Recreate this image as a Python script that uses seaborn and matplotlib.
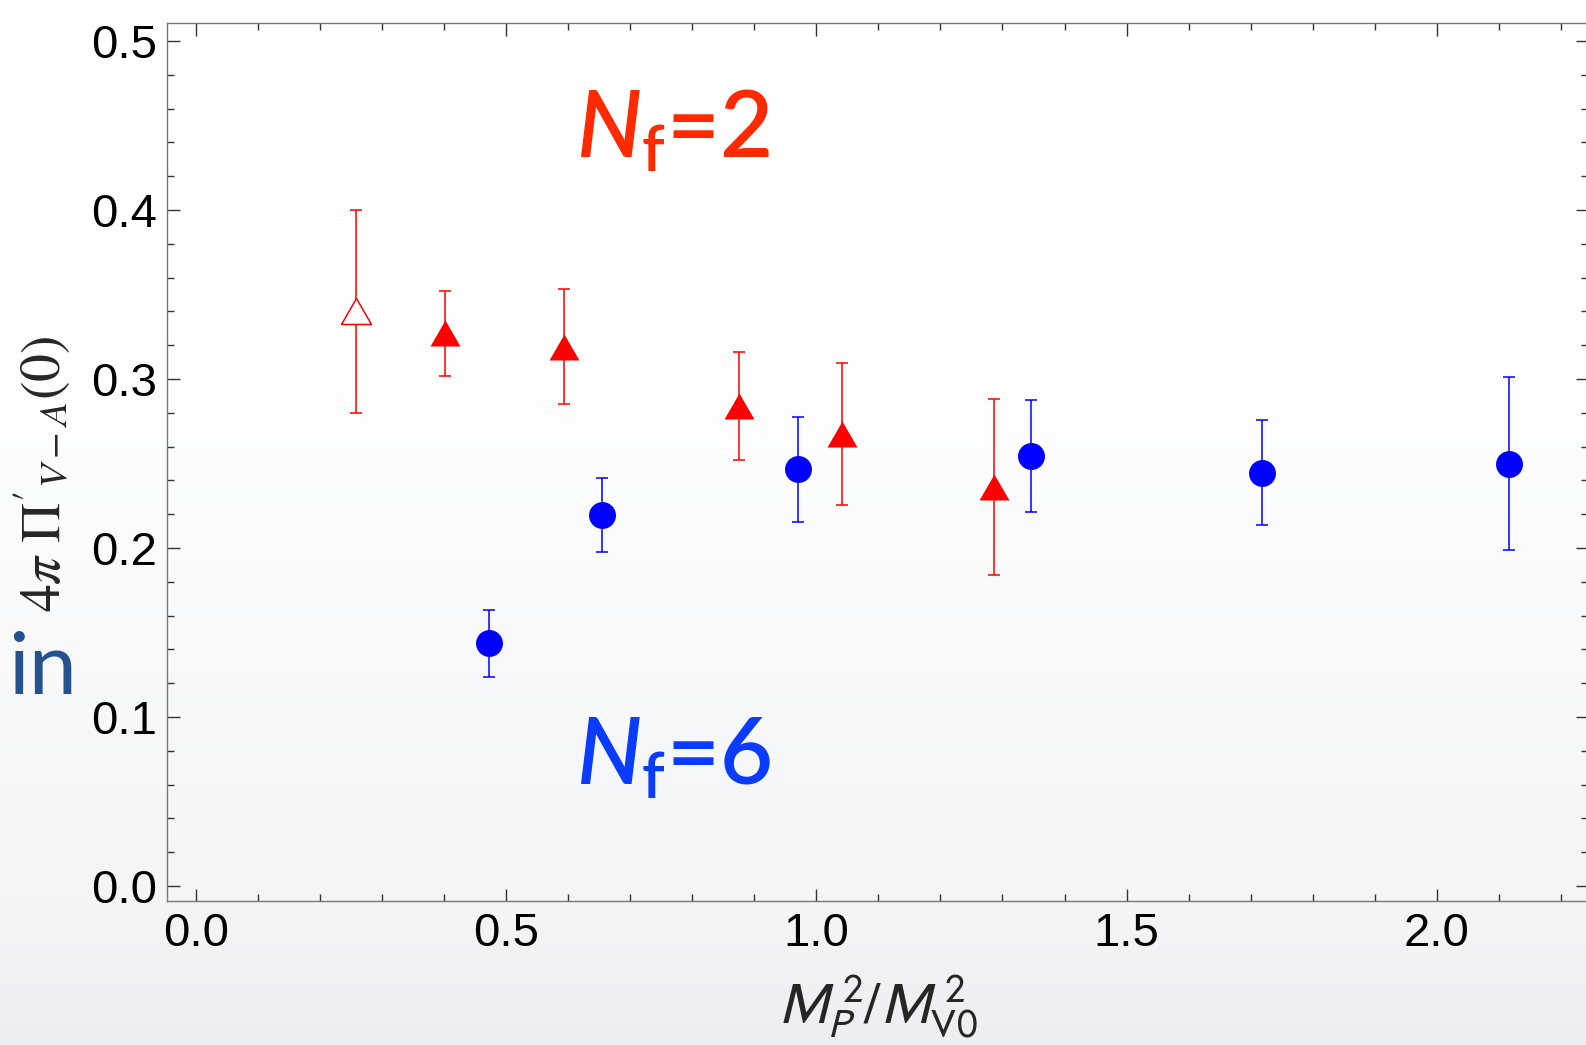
import numpy as np
import pandas as pd
import matplotlib
matplotlib.use("Agg")
import matplotlib.pyplot as plt
from matplotlib.ticker import FixedLocator, MultipleLocator
import seaborn as sns

# ---- data -------------------------------------------------------------
nf2_x = [0.258, 0.402, 0.594, 0.876, 1.041, 1.287]
nf2_y = [0.340, 0.327, 0.319, 0.284, 0.2675, 0.236]
nf2_err = [0.060, 0.025, 0.034, 0.032, 0.042, 0.052]
nf2_open = [True, False, False, False, False, False]

nf6_x = [0.472, 0.654, 0.971, 1.3455, 1.719, 2.1165]
nf6_y = [0.1436, 0.2196, 0.2466, 0.2543, 0.2445, 0.250]
nf6_err = [0.020, 0.022, 0.031, 0.033, 0.031, 0.051]

x_ticks = [0.0, 0.5, 1.0, 1.5, 2.0]
x_tick_labels = ["0.0", "0.5", "1.0", "1.5", "2.0"]
y_ticks = [0.0, 0.1, 0.2, 0.3, 0.4, 0.5]
y_tick_labels = ["0.0", "0.1", "0.2", "0.3", "0.4", "0.5"]

# ---- style ------------------------------------------------------------
sns.set_theme(style="ticks")
plt.rcParams["font.family"] = ["Liberation Sans", "DejaVu Sans"]
plt.rcParams["mathtext.fontset"] = "custom"
plt.rcParams["mathtext.rm"] = "Lato:semibold"
plt.rcParams["mathtext.it"] = "Lato:italic:semibold"
plt.rcParams["mathtext.bf"] = "Lato:bold"

W, H = 1586, 1045
fig = plt.figure(figsize=(W / 100, H / 100), dpi=100)

# slide background: white at the top, fading to a cool light grey
bg = fig.add_axes([0, 0, 1, 1], zorder=-10)
bg.axis("off")
top_c = np.array([1.0, 1.0, 1.0])
mid_c = np.array([0xf4, 0xf5, 0xf7]) / 255
bot_c = np.array([0xec, 0xee, 0xf1]) / 255
grad = np.zeros((H, 1, 3))
for i in range(H):
    if i < 335:
        c = top_c
    elif i < 900:
        t = (i - 335) / (900 - 335)
        c = top_c * (1 - t) + mid_c * t
    else:
        t = (i - 900) / (H - 900)
        c = mid_c * (1 - t) + bot_c * t
    grad[i, 0] = c
bg.imshow(grad, aspect="auto", extent=[0, 1, 0, 1], interpolation="bilinear")
bg.set_xlim(0, 1)
bg.set_ylim(0, 1)

ax = fig.add_axes([167 / W, 1 - 901 / H, (1588 - 167) / W, (901 - 23.3) / H])
ax.set_facecolor("none")

# ---- error bars -------------------------------------------------------
ax.errorbar(nf2_x, nf2_y, yerr=nf2_err, fmt="none", ecolor="#ff0000",
            elinewidth=1.1, capsize=4.3, capthick=1.1, zorder=2)
ax.errorbar(nf6_x, nf6_y, yerr=nf6_err, fmt="none", ecolor="#0000ff",
            elinewidth=1.1, capsize=4.3, capthick=1.1, zorder=2)

# ---- markers ----------------------------------------------------------
tri = [(-1.0, -0.866), (1.0, -0.866), (0.0, 0.866), (-1.0, -0.866)]
df2 = pd.DataFrame({"x": nf2_x, "y": nf2_y, "open": nf2_open})
df6 = pd.DataFrame({"x": nf6_x, "y": nf6_y})

filled = df2[~df2["open"]]
sns.scatterplot(data=filled, x="x", y="y", marker=tri, s=467,
                color="#ff0000", linewidth=0, ax=ax, zorder=3, legend=False)
hollow = df2[df2["open"]]
ax.plot(hollow["x"], hollow["y"], linestyle="none", marker=tri,
        markersize=21.6, markerfacecolor="white", markeredgecolor="#ff0000",
        markeredgewidth=1.1, zorder=3)
sns.scatterplot(data=df6, x="x", y="y", marker="o", s=376,
                color="#0000ff", linewidth=0, ax=ax, zorder=3, legend=False)

# ---- axes -------------------------------------------------------------
ax.set_xlim(-0.0462, 2.2435)
ax.set_ylim(-0.0089, 0.5105)
ax.xaxis.set_major_locator(FixedLocator(x_ticks))
ax.set_xticklabels(x_tick_labels)
ax.yaxis.set_major_locator(FixedLocator(y_ticks))
ax.set_yticklabels(y_tick_labels)
ax.xaxis.set_minor_locator(MultipleLocator(0.1))
ax.yaxis.set_minor_locator(MultipleLocator(0.02))
ax.tick_params(which="both", direction="in", top=True, right=True,
               color="#333333", width=1.0)
ax.tick_params(which="major", length=9.0, labelsize=34, colors="#333333",
               labelcolor="black")
ax.tick_params(axis="x", which="major", pad=8)
ax.tick_params(axis="y", which="major", pad=7)
ax.tick_params(which="minor", length=5.3)
for sp in ax.spines.values():
    sp.set_color("#777777")
    sp.set_linewidth(1.0)
ax.set_xlabel("")
ax.set_ylabel("")

# axis titles
fig.text(42 / W, 1 - 474 / H, r"$4\pi\ \Pi'_{V-A}(0)$", rotation=90,
         ha="center", va="center", fontsize=40, math_fontfamily="stix")
fig.text(878 / W, 1 - 1024 / H, r"$M_P^{\,2}/M_{\mathrm{V0}}^{\,2}$",
         ha="center", va="baseline", fontsize=42, math_fontfamily="stixsans")

# series annotations
ax.text(0.613, 0.431, r"$N_{\mathrm{f}}$=2", color="#ff2a00", fontsize=66,
        family="Lato", weight="semibold", ha="left", va="baseline")
ax.text(0.613, 0.0598, r"$N_{\mathrm{f}}$=6", color="#0a3cff", fontsize=66,
        family="Lato", weight="semibold", ha="left", va="baseline")

fig.text(8 / W, 1 - 694 / H, "in", color="#23528e", fontsize=62,
         family="Lato", ha="left", va="baseline")

fig.savefig("out.png", dpi=100)
